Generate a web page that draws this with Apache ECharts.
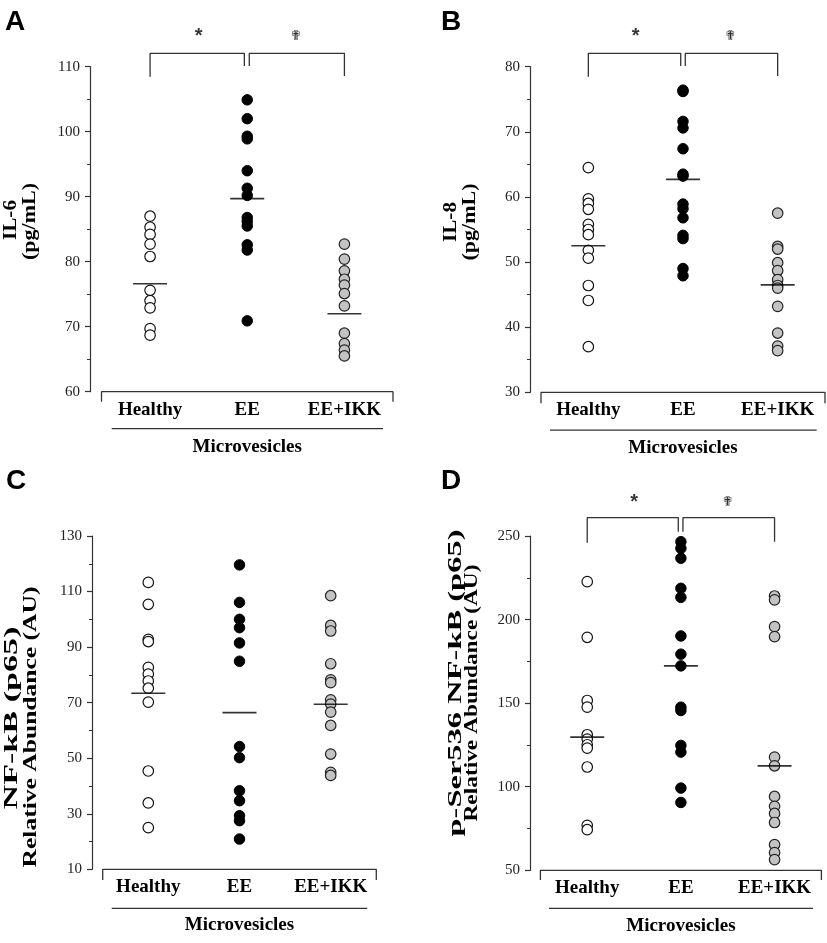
<!DOCTYPE html>
<html><head><meta charset="utf-8">
<script src="https://cdn.jsdelivr.net/npm/echarts@6/dist/echarts.min.js"></script>
<style>html,body{margin:0;padding:0;background:#fff}#c{width:827px;height:943px}</style>
</head><body><div id="c"></div>
<script>
// ---------------- data ----------------
const categories = ['Healthy', 'EE', 'EE+IKK'];
const groupLabel = 'Microvesicles';

// Panel A: IL-6 (pg/mL)
const il6Ticks = [60, 70, 80, 90, 100, 110];
const il6Healthy = [87.0, 85.3, 84.2, 82.7, 80.8, 75.6, 74.0, 72.9, 69.7, 68.7];
const il6EE = [104.9, 102.0, 99.3, 98.9, 94.0, 91.3, 90.2, 86.8, 86.2, 85.5, 82.6, 81.8, 70.9];
const il6IKK = [82.7, 80.4, 78.6, 77.3, 76.4, 75.1, 73.2, 69.0, 67.4, 66.4, 65.5];
const il6Means = [76.6, 89.7, 72.0];

// Panel B: IL-8 (pg/mL)
const il8Ticks = [30, 40, 50, 60, 70, 80];
const il8Healthy = [64.5, 59.7, 59.0, 58.1, 55.8, 55.0, 54.2, 51.8, 50.6, 46.4, 44.1, 37.0];
const il8EE = [76.4, 76.2, 71.6, 70.6, 67.4, 63.5, 63.2, 58.9, 58.2, 56.8, 54.1, 53.6, 49.0, 47.9];
const il8IKK = [57.5, 52.4, 52.0, 49.9, 48.7, 47.3, 46.4, 46.0, 43.2, 39.1, 37.1, 36.4];
const il8Means = [52.5, 62.7, 46.5];

// Panel C: NF-kB (p65)
const nfkbTicks = [10, 30, 50, 70, 90, 110, 130];
const nfkbHealthy = [113.3, 105.4, 92.8, 92.0, 82.7, 80.3, 77.8, 75.2, 70.2, 45.4, 33.9, 25.0];
const nfkbEE = [119.6, 106.1, 100.0, 97.0, 91.5, 84.9, 54.2, 50.2, 38.3, 34.7, 29.3, 27.5, 20.9];
const nfkbIKK = [108.5, 97.8, 95.8, 84.0, 78.2, 77.2, 71.0, 69.5, 66.6, 61.8, 51.5, 44.9, 43.8];
const nfkbMeans = [73.4, 66.4, 69.4];

// Panel D: p-Ser536 NF-kB (p65)
const pserTicks = [50, 100, 150, 200, 250];
const pserHealthy = [222.7, 189.4, 151.6, 147.6, 131.1, 128.5, 125.1, 123.1, 111.8, 76.9, 74.3];
const pserEE = [246.6, 242.6, 236.7, 218.7, 213.3, 190.2, 179.3, 172.3, 147.6, 145.6, 124.7, 120.7, 99.2, 90.6];
const pserIKK = [214.1, 211.8, 195.8, 189.8, 117.7, 112.5, 94.2, 88.3, 84.0, 78.6, 65.4, 60.6, 56.4];
const pserMeans = [129.7, 172.3, 112.5];

const sigLabels = ['*', '\u271F'];

// ---------------- layout / annotations (data units) ----------------
const SERIF = '"Liberation Serif", "Times New Roman", serif';
const SANS = '"Liberation Sans", Arial, sans-serif';

const panels = [
  { letter: 'A', title: ['IL-6', '(pg/mL)'], ticks: il6Ticks, groups: [il6Healthy, il6EE, il6IKK], means: il6Means,
    grid: { left: 101.5, top: 66.7, width: 291.5, height: 325 }, offset: 11.5,
    letterPos: [15, 22], titlePos: [[11.7, 220, 40], [30.8, 221.5, 77]],
    xBracket: { low: 58.46, under: 54.31, ux: [-0.395, 2.397] },
    sig: { top: 112.06, lEnd: 108.46, mid: 110.1, midL: 0.97, midR: 1.021, rEnd: 108.57, markY: 114.6 } },
  { letter: 'B', title: ['IL-8', '(pg/mL)'], ticks: il8Ticks, groups: [il8Healthy, il8EE, il8IKK], means: il8Means,
    grid: { left: 541, top: 66.7, width: 284, height: 325.6 }, offset: 11,
    letterPos: [451, 22], titlePos: [[451.7, 222, 40], [470.8, 222, 77]],
    xBracket: { low: 28.3, under: 24.2, ux: [-0.405, 2.412] },
    sig: { top: 82.06, lEnd: 78.46, mid: 80.1, midL: 0.976, midR: 1.024, rEnd: 78.57, markY: 84.6 } },
  { letter: 'C', title: ['NF-kB (p65)', 'Relative Abundance (AU)'], ticks: nfkbTicks, groups: [nfkbHealthy, nfkbEE, nfkbIKK], means: nfkbMeans,
    grid: { left: 102.7, top: 536, width: 273.6, height: 333.3 }, offset: 10.7,
    letterPos: [16, 481], titlePos: [[12.5, 718, 183], [31.7, 727, 281]],
    xBracket: { low: 6.15, under: -4.04, ux: [-0.401, 2.401] },
    sig: null },
  { letter: 'D', title: ['p-Ser536 NF-kB (p65)', 'Relative Abundance (AU)'], ticks: pserTicks, groups: [pserHealthy, pserEE, pserIKK], means: pserMeans,
    grid: { left: 540.4, top: 536, width: 281, height: 334.3 }, offset: 10.4,
    letterPos: [451, 481], titlePos: [[456, 683, 307], [472.5, 693, 257]],
    xBracket: { low: 44.2, under: 27.25, ux: [-0.408, 2.41] },
    sig: { top: 260.96, lEnd: 246.0, mid: 252.6, midL: 0.972, midR: 1.022, rEnd: 246.6, markY: 270.3 } }
];

const groupStyles = [
  { color: '#ffffff', borderColor: '#111', borderWidth: 1.2 },
  { color: '#000000', borderColor: '#000', borderWidth: 1 },
  { color: '#c3c3c3', borderColor: '#222', borderWidth: 1.2 }
];
const lineColor = '#333';

// ---------------- build option ----------------
const grids = [], xAxes = [], yAxes = [], series = [], graphics = [];
const mctx = document.createElement('canvas').getContext('2d');
mctx.font = 'bold 18px ' + SERIF;

panels.forEach((p, i) => {
  grids.push(Object.assign({ containLabel: false }, p.grid));
  const tmin = p.ticks[0], tmax = p.ticks[p.ticks.length - 1], tint = p.ticks[1] - p.ticks[0];
  xAxes.push({
    type: 'category', gridIndex: i, data: categories,
    axisLine: { show: false, onZero: false }, axisTick: { show: false }, splitLine: { show: false },
    axisLabel: { interval: 0, margin: 8.5, fontSize: 19, fontWeight: 'bold', fontFamily: SERIF, color: '#000' },
    name: groupLabel, nameLocation: 'middle', nameGap: 46,
    nameTextStyle: { fontSize: 19, fontWeight: 'bold', fontFamily: SERIF, color: '#000' }
  });
  xAxes.push({ type: 'value', gridIndex: i, min: -0.5, max: 2.5, show: false, axisLine: { onZero: false } });
  yAxes.push({
    type: 'value', gridIndex: i, min: tmin, max: tmax, interval: tint, offset: p.offset,
    axisLine: { show: true, onZero: false, lineStyle: { color: lineColor, width: 1.2 } },
    axisTick: { show: true, inside: false, length: 5, lineStyle: { color: lineColor, width: 1.2 } },
    minorTick: { show: true, splitNumber: 2, length: 3, lineStyle: { color: lineColor, width: 1 } },
    splitLine: { show: false }, minorSplitLine: { show: false },
    axisLabel: { margin: 10, fontSize: 15, fontFamily: SERIF, color: '#222' }
  });
  const cx = 2 * i, vx = 2 * i + 1;
  p.groups.forEach((vals, g) => {
    series.push({
      type: 'scatter', xAxisIndex: cx, yAxisIndex: i, symbol: 'circle', symbolSize: 10.5,
      itemStyle: Object.assign({ opacity: 1 }, groupStyles[g]),
      data: vals.map(v => [categories[g], v]), z: 3, silent: true
    });
  });
  series.push({
    type: 'scatter', xAxisIndex: cx, yAxisIndex: i, symbol: 'rect', symbolSize: [34, 1.6],
    itemStyle: { color: '#000' }, data: p.means.map((v, g) => [categories[g], v]), z: 5, silent: true
  });
  const lineS = (pts) => ({
    type: 'line', xAxisIndex: vx, yAxisIndex: i, data: pts, symbol: 'none', clip: false, silent: true,
    lineStyle: { color: lineColor, width: 1.3 }, z: 4
  });
  const xb = p.xBracket;
  series.push(lineS([[-0.5, xb.low], [-0.5, tmin], [2.5, tmin], [2.5, xb.low]]));
  series.push(lineS([[xb.ux[0], xb.under], [xb.ux[1], xb.under]]));
  if (p.sig) {
    const s = p.sig;
    series.push(lineS([[0, s.lEnd], [0, s.top], [s.midL, s.top], [s.midL, s.mid]]));
    series.push(lineS([[s.midR, s.mid], [s.midR, s.top], [2, s.top], [2, s.rEnd]]));
    series.push({
      type: 'scatter', xAxisIndex: vx, yAxisIndex: i, symbolSize: 0, clip: false, silent: true,
      data: [
        { value: [0.5, s.markY], label: { formatter: sigLabels[0], fontSize: 20, fontWeight: 'bold', fontFamily: SANS } },
        { value: [1.5, s.markY], label: { formatter: sigLabels[1], fontSize: 14, fontFamily: '"DejaVu Sans", sans-serif' } }
      ],
      label: { show: true, position: 'inside', color: '#000' }
    });
  }
  graphics.push({ type: 'text', x: p.letterPos[0], y: p.letterPos[1], silent: true,
    style: { text: p.letter, fontFamily: SANS, fontWeight: 'bold', fontSize: 28, fill: '#000', align: 'center', verticalAlign: 'middle' } });
  p.title.forEach((t, k) => {
    const [tx, ty, len] = p.titlePos[k];
    const w = mctx.measureText(t).width;
    graphics.push({ type: 'text', x: tx, y: ty, rotation: Math.PI / 2, scaleX: len / w, silent: true,
      style: { text: t, fontFamily: SERIF, fontWeight: 'bold', fontSize: 18, fill: '#000', align: 'center', verticalAlign: 'middle' } });
  });
});

const chart = echarts.init(document.getElementById('c'), null, { renderer: 'canvas', width: 827, height: 943 });
chart.setOption({
  backgroundColor: '#ffffff', animation: false,
  grid: grids, xAxis: xAxes, yAxis: yAxes, series: series, graphic: graphics
});
</script></body></html>
